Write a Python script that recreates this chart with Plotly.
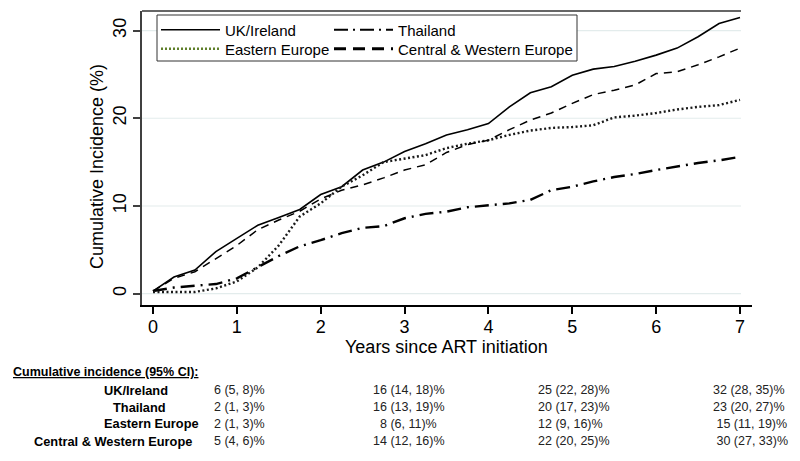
import plotly.graph_objects as go

# years since ART initiation
years = [0, 0.25, 0.5, 0.75, 1, 1.25, 1.5, 1.75, 2, 2.25, 2.5, 2.75, 3, 3.25, 3.5,
         3.75, 4, 4.25, 4.5, 4.75, 5, 5.25, 5.5, 5.75, 6, 6.25, 6.5, 6.75, 7]

# cumulative incidence (%)
uk = [0.3, 1.9, 2.7, 4.8, 6.3, 7.8, 8.7, 9.6, 11.3, 12.2, 14.1, 15.0, 16.2, 17.1, 18.1,
      18.7, 19.4, 21.3, 22.9, 23.6, 24.9, 25.6, 25.9, 26.5, 27.2, 28.0, 29.3, 30.8, 31.5]
thailand = [0.3, 0.7, 0.9, 1.1, 1.75, 3.0, 4.3, 5.4, 6.1, 6.9, 7.5, 7.7, 8.6, 9.1, 9.35,
            9.85, 10.1, 10.3, 10.7, 11.8, 12.2, 12.8, 13.3, 13.65, 14.1, 14.5, 14.9, 15.2, 15.6]
eastern = [0.2, 0.2, 0.2, 0.6, 1.4, 3.0, 5.5, 8.8, 10.3, 12.2, 13.5, 15.0, 15.4, 15.8, 16.6,
           17.1, 17.5, 18.1, 18.6, 18.9, 19.0, 19.2, 20.1, 20.3, 20.6, 21.0, 21.3, 21.5, 22.1]
cw_europe = [0.3, 1.75, 2.5, 4.0, 5.5, 7.3, 8.4, 9.4, 10.8, 11.8, 12.4, 13.2, 14.1, 14.7, 16.1,
             17.0, 17.5, 18.7, 19.8, 20.6, 21.7, 22.7, 23.2, 23.8, 25.1, 25.3, 26.1, 27.0, 28.0]

y_ticks = [0, 10, 20, 30]
x_ticks = [0, 1, 2, 3, 4, 5, 6, 7]

# table under the chart
table_title = "Cumulative incidence (95% CI):"
row_names = ["UK/Ireland", "Thailand", "Eastern Europe", "Central & Western Europe"]
uk_ci = ["6 (5, 8)%", "16 (14, 18)%", "25 (22, 28)%", "32 (28, 35)%"]
thai_ci = ["2 (1, 3)%", "16 (13, 19)%", "20 (17, 23)%", "23 (20, 27)%"]
ee_ci = ["2 (1, 3)%", "\u20078 (6, 11)%", "12 (9, 16)%", "\u00a015 (11, 19)%"]
cwe_ci = ["5 (4, 6)%", "14 (12, 16)%", "22 (20, 25)%", "\u00a030 (27, 33)%"]

# pixel layout of the plot area
L, R, T, B = 142, 752, 11, 305
W, H = R - L, B - T


def px_x(p):
    return (p - L) / W


def px_y(p):
    return (B - p) / H


FONT = "Liberation Sans, Arial, sans-serif"

fig = go.Figure()

curves = [
    (uk, dict(color="black", width=1.6, dash="solid")),
    (thailand, dict(color="black", width=2.4, dash="14px,6px,2px,6px")),
    (eastern, dict(color="#1a1a1a", width=2.4, dash="2px,2.5px")),
    (cw_europe, dict(color="black", width=1.5, dash="8px,6px")),
]
for vals, ln in curves:
    fig.add_trace(go.Scatter(x=years, y=vals, mode="lines", line=ln,
                             showlegend=False, hoverinfo="skip"))

# legend entries, one small legend per entry so the 2x2 grid sits where it should
legend_styles = [
    ("UK/Ireland", dict(color="black", width=1.6, dash="solid")),
    ("Thailand", dict(color="black", width=2, dash="14px,5px,2px,5px")),
    ("Eastern Europe", dict(color="#5f7f2a", width=2.5, dash="2px,2px")),
    ("Central & Western Europe", dict(color="black", width=3, dash="12px,7px")),
]
legend_ids = ["legend", "legend2", "legend3", "legend4"]
legend_pos = [(156, 30), (329, 30), (156, 49), (329, 49)]
for (name, ln), lid in zip(legend_styles, legend_ids):
    fig.add_trace(go.Scatter(x=[None], y=[None], mode="lines", name=name, line=ln, legend=lid))

legend_layout = {}
for lid, (lx, ly) in zip(legend_ids, legend_pos):
    legend_layout[lid] = dict(x=px_x(lx), y=px_y(ly), xanchor="left", yanchor="middle",
                              itemwidth=59, borderwidth=0, bgcolor="rgba(0,0,0,0)",
                              font=dict(size=15, color="black"))

# legend frame
fig.add_shape(type="rect", xref="paper", yref="paper",
              x0=px_x(157), x1=px_x(577), y0=px_y(61), y1=px_y(15),
              line=dict(color="#333333", width=1), fillcolor="white", layer="above")

# grid lines stop at year 7, as does the top frame line
for v in y_ticks:
    fig.add_shape(type="line", xref="paper", yref="y", x0=0, x1=px_x(741), y0=v, y1=v,
                  line=dict(color="#e3ecec", width=1.2), layer="below")
fig.add_shape(type="line", xref="paper", yref="paper", x0=0, x1=px_x(741), y0=1, y1=1,
              line=dict(color="#333333", width=1.5))

fig.add_annotation(text="Cumulative Incidence (%)", textangle=-90, showarrow=False,
                   xref="paper", yref="paper", x=px_x(97), y=px_y(167),
                   xanchor="center", yanchor="middle", font=dict(size=18, color="black"))
fig.add_annotation(text="Years since ART initiation", showarrow=False,
                   xref="paper", yref="paper", x=px_x(446), y=px_y(347),
                   xanchor="center", yanchor="middle", font=dict(size=18, color="black"))

# table text
fig.add_annotation(text="<b><u>" + table_title + "</u></b>", showarrow=False,
                   xref="paper", yref="paper", x=px_x(11), y=px_y(372),
                   xanchor="left", yanchor="middle", font=dict(size=12.5, color="black"))
label_left = [102, 111, 102, 32]
row_y = [390, 407, 424, 441]
col_x = [212, 371, 536, 711]
for i, (name, vals) in enumerate(zip(row_names, [uk_ci, thai_ci, ee_ci, cwe_ci])):
    fig.add_annotation(text="<b>" + name + "</b>", showarrow=False,
                       xref="paper", yref="paper", x=px_x(label_left[i]), y=px_y(row_y[i]),
                       xanchor="left", yanchor="middle", font=dict(size=12.8, color="black"))
    for j, v in enumerate(vals):
        fig.add_annotation(text=v, showarrow=False,
                           xref="paper", yref="paper", x=px_x(col_x[j]), y=px_y(row_y[i]),
                           xanchor="left", yanchor="middle", font=dict(size=12.5, color="#222222"))

fig.update_layout(
    width=800, height=461,
    margin=dict(l=L, r=800 - R, t=T, b=461 - B, autoexpand=False),
    paper_bgcolor="white", plot_bgcolor="white",
    font=dict(family=FONT, color="black"),
    **legend_layout,
)
fig.update_xaxes(range=[-0.131, 7.143], tickvals=x_ticks, showgrid=False, zeroline=False,
                 automargin=False,
                 showline=True, linecolor="black", linewidth=2,
                 ticks="outside", ticklen=7, tickwidth=1.5, tickcolor="black",
                 ticklabelstandoff=-3,
                 tickfont=dict(size=18, color="black"))
fig.update_yaxes(range=[-1.29, 32.23], tickvals=y_ticks, showgrid=False, zeroline=False,
                 automargin=False,
                 showline=True, linecolor="#404040", linewidth=1.8,
                 ticks="outside", ticklen=7, tickwidth=1.5, tickcolor="#404040",
                 tickangle=-90, tickfont=dict(size=18, color="black"))

# page body has an 8px default margin; drop it so the chart sits at 0,0
fig.write_html("out.html", config={"displayModeBar": False},
               post_script="document.body.style.margin='0';")
